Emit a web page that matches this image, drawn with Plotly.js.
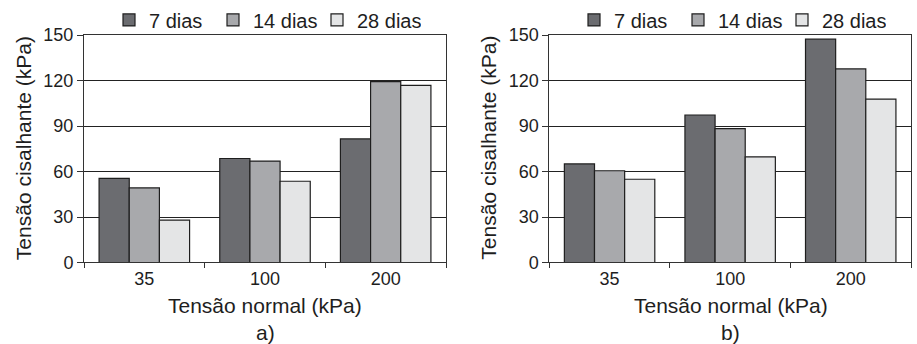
<!DOCTYPE html>
<html>
<head>
<meta charset="utf-8">
<script src="https://cdn.plot.ly/plotly-3.0.1.min.js"></script>
<style>html,body{margin:0;padding:0;background:#fff;}#chart{width:917px;height:344px;}</style>
</head>
<body>
<div id="chart"></div>
<script>
const categories = ['35', '100', '200'];
const seriesNames = ['7 dias', '14 dias', '28 dias'];
// Panel a)
const a7 = [55.5, 68.6, 81.5];
const a14 = [49.2, 66.9, 119.3];
const a28 = [28, 53.6, 116.9];
// Panel b)
const b7 = [65, 97.3, 147.3];
const b14 = [60.5, 88.3, 127.7];
const b28 = [54.9, 69.7, 107.8];
const yTicks = [0, 30, 60, 90, 120, 150];
const xTitle = 'Tensão normal (kPa)';
const yTitle = 'Tensão cisalhante (kPa)';
const panelLabels = ['a)', 'b)'];

const colors = ['#6b6c70', '#a8a9ac', '#e4e5e6'];
const W = 917, H = 344;
const FONT = '"Liberation Sans", Arial, sans-serif';
const TXT = '#1e1e1e';

function mk(y, i, xa, ya, lg) {
  return {
    type: 'bar', x: categories, y: y, name: seriesNames[i],
    xaxis: xa, yaxis: ya, legend: lg,
    marker: {color: colors[i], line: {color: '#1e1e1e', width: 1.2}},
    hoverinfo: 'skip'
  };
}
const data = [
  mk(a7, 0, 'x', 'y', 'legend'), mk(a14, 1, 'x', 'y', 'legend'), mk(a28, 2, 'x', 'y', 'legend'),
  mk(b7, 0, 'x2', 'y2', 'legend2'), mk(b14, 1, 'x2', 'y2', 'legend2'), mk(b28, 2, 'x2', 'y2', 'legend2')
];

const yTop = (H - 33.3) / H, yBot = (H - 262) / H;
function xax(dom, anchor) {
  return {
    domain: dom, anchor: anchor, type: 'category',
    showline: true, linecolor: '#333', linewidth: 1, mirror: true,
    ticks: 'outside', tickson: 'boundaries', ticklen: 5, tickcolor: '#333',
    tickfont: {family: FONT, size: 18, color: TXT},
    showgrid: false, fixedrange: true
  };
}
function yax(dom, anchor) {
  return {
    domain: dom, anchor: anchor, range: [0, 150], tickvals: yTicks,
    showline: true, linecolor: '#333', linewidth: 1, mirror: true,
    ticks: 'outside', ticklen: 6, tickcolor: '#333',
    tickfont: {family: FONT, size: 18, color: TXT},
    showgrid: true, gridcolor: '#222', gridwidth: 1, zeroline: false, fixedrange: true
  };
}
const legendBase = {
  orientation: 'h', yanchor: 'middle', y: (H - 18) / H, xanchor: 'left',
  bgcolor: 'rgba(0,0,0,0)', borderwidth: 0, itemwidth: 30,
  font: {family: FONT, size: 20, color: TXT}, tracegroupgap: 0,
  entrywidth: 59, entrywidthmode: 'pixels', itemclick: false, itemdoubleclick: false
};

function ann(text, x, y, size, angle) {
  return {text: text, x: x / W, y: (H - y) / H, xref: 'paper', yref: 'paper',
    showarrow: false, xanchor: 'center', yanchor: 'middle', textangle: angle || 0,
    font: {family: FONT, size: size, color: TXT}};
}

const layout = {
  width: W, height: H, margin: {l: 0, r: 0, t: 0, b: 0},
  paper_bgcolor: '#fff', plot_bgcolor: '#fff',
  barmode: 'group', bargap: 0.25, bargroupgap: 0,
  showlegend: true,
  xaxis: xax([84 / W, 446 / W], 'y'),
  yaxis: yax([yBot, yTop], 'x'),
  xaxis2: xax([549.3 / W, 911 / W], 'y2'),
  yaxis2: yax([yBot, yTop], 'x2'),
  legend: Object.assign({}, legendBase, {x: 109 / W}),
  legend2: Object.assign({}, legendBase, {x: 574 / W}),
  annotations: [
    ann(xTitle, 265, 305, 21), ann(panelLabels[0], 265, 332, 21),
    ann(xTitle, 731, 305, 21), ann(panelLabels[1], 730, 332, 21),
    ann(yTitle, 23, 147, 21, -90), ann(yTitle, 488.5, 147, 21, -90)
  ]
};
Plotly.newPlot('chart', data, layout, {staticPlot: true, displayModeBar: false});
</script>
</body>
</html>
